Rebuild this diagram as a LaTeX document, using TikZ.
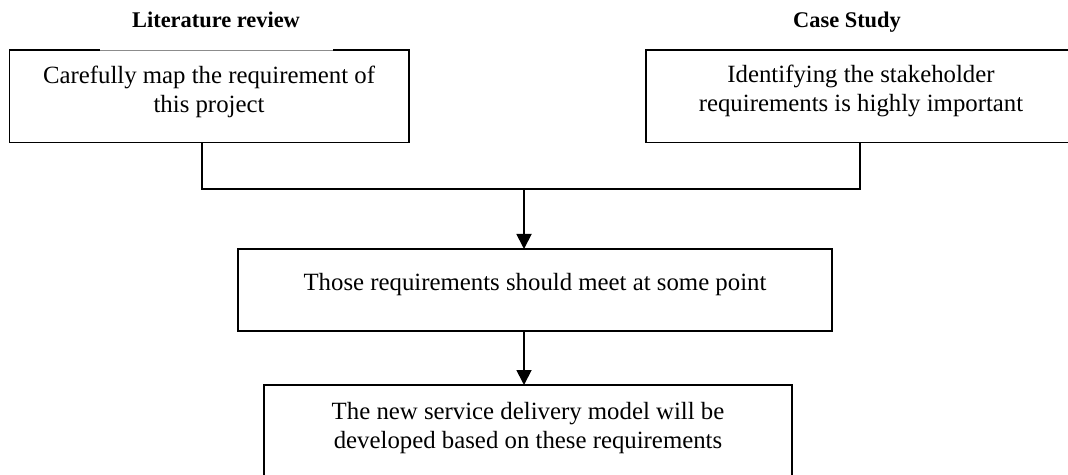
\documentclass[tikz,border=0pt]{standalone}
\usepackage{fontspec}
\setmainfont{Liberation Serif}
\usetikzlibrary{arrows.meta}
\tikzset{
  box/.style={draw=black, line width=0.9pt, inner sep=0pt, outer sep=0pt, anchor=north west},
  bodytext/.style={anchor=base, inner sep=0pt, font=\fontsize{12.4pt}{14.5pt}\selectfont},
  titletext/.style={anchor=base, inner sep=0pt, font=\fontsize{11.2pt}{13pt}\selectfont\bfseries},
  link/.style={draw=black, line width=0.9pt},
  arrowlink/.style={link, -{Triangle[length=7.5pt,width=7.5pt]}},
}
\begin{document}
\begin{tikzpicture}[x=0.5pt,y=-0.5pt]
\useasboundingbox (0,0) rectangle (1068,475);
\clip (0,0) rectangle (1068,475);
% boxes
\node[box, minimum width=199.75pt, minimum height=46.25pt] (L) at (9.5,50) {};
\node[box, minimum width=214pt, minimum height=46.25pt] (R) at (646,50) {};
\node[box, minimum width=297pt, minimum height=41pt] (M) at (238,249) {};
\node[box, minimum width=264pt, minimum height=57.5pt] (B) at (264,385) {};
% lighter segment on top edge of left box
\draw[white, line width=1.2pt] (100,50) -- (333,50);
\draw[black!45, line width=0.45pt] (100,50.6) -- (333,50.6);
% titles
\node[titletext] (t1) at (216,28) {Literature review};
\node[titletext] (t2) at (847,28) {Case Study};
% box texts
\node[bodytext] (l1) at (209,84) {Carefully map the requirement of};
\node[bodytext] (l2) at (209,113) {this project};
\node[bodytext] (r1) at (861,83) {Identifying the stakeholder};
\node[bodytext] (r2) at (861,112) {requirements is highly important};
\node[bodytext] (m1) at (535,290) {Those requirements should meet at some point};
\node[bodytext] (b1) at (528,419) {The new service delivery model will be};
\node[bodytext] (b2) at (528,448) {developed based on these requirements};
% connectors
\coordinate (jl) at (202,189);
\coordinate (jr) at (860,189);
\coordinate (j) at (524,189);
\draw[link] (jl |- L.south) -- (jl) -- (jr) -- (jr |- R.south);
\draw[arrowlink] (j) -- (j |- M.north);
\draw[arrowlink] (j |- M.south) -- (j |- B.north);
\end{tikzpicture}
\end{document}
